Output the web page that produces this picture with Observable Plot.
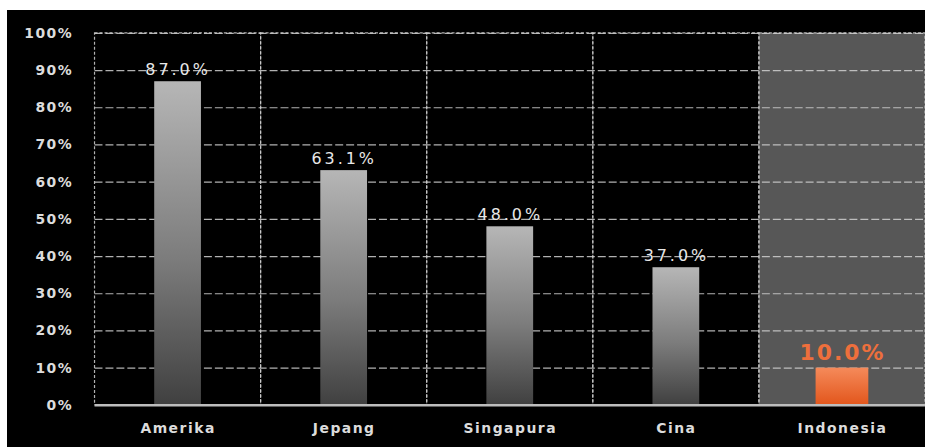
<!DOCTYPE html>
<html>
<head>
<meta charset="utf-8">
<script src="https://cdn.jsdelivr.net/npm/d3@7"></script>
<script src="https://cdn.jsdelivr.net/npm/@observablehq/plot@0.6"></script>
<style>
  html, body { margin: 0; padding: 0; background: #fff; }
  #wrap { position: absolute; left: 7px; top: 10px; width: 918px; height: 437px; background: #000; overflow: hidden; }
  #wrap svg text { letter-spacing: 1.5px; }
  #wrap svg .val text { letter-spacing: 3px; }
  #wrap svg .hval text { letter-spacing: 2px; }
</style>
</head>
<body>
<div id="wrap"></div>
<script>
const categories = ["Amerika", "Jepang", "Singapura", "Cina", "Indonesia"];
const values = [87.0, 63.1, 48.0, 37.0, 10.0];
const yTicks = [0, 10, 20, 30, 40, 50, 60, 70, 80, 90, 100];
const highlight = "Indonesia";

const data = categories.map((c, i) => ({country: c, value: values[i]}));
const normal = data.filter(d => d.country !== highlight);
const hi = data.filter(d => d.country === highlight);

const svg = Plot.plot({
  width: 923,
  height: 437,
  marginLeft: 88,
  marginRight: 0,
  marginTop: 23,
  marginBottom: 40,
  style: {background: "transparent", color: "#dcdcdc", fontFamily: "DejaVu Sans"},
  x: {domain: categories, padding: 0, label: null},
  y: {domain: [0, 100], label: null},
  marks: [
    Plot.barY([highlight], {x: d => d, y1: 0, y2: 100, fill: "#575757", inset: 0}),
    Plot.ruleY(yTicks.filter(t => t > 0), {stroke: "#d0d0d0", strokeDasharray: "8,3", strokeWidth: 1.2, strokeOpacity: 0.85}),
    Plot.barY(categories, {x: d => d, y1: 0, y2: 100, fill: "none", stroke: "#d0d0d0", strokeDasharray: "3,2", strokeWidth: 1.2, strokeOpacity: 0.85, inset: 0}),
    Plot.barY(normal, {x: "country", y: "value", fill: "url(#gradGray)", insetLeft: 60, insetRight: 60}),
    Plot.barY(hi, {x: "country", y: "value", fill: "url(#gradOrange)", insetLeft: 57, insetRight: 57}),
    Plot.ruleY([0], {stroke: "#bdbdbd", strokeWidth: 2.5}),
    Plot.text(normal, {x: "country", y: "value", text: d => d.value.toFixed(1) + "%", dy: -12, fill: "#e8e8e8", fontSize: 16, className: "val"}),
    Plot.text(hi, {x: "country", y: "value", text: d => d.value.toFixed(1) + "%", dy: -15, fill: "#ee6f3c", fontSize: 22, fontWeight: "bold", className: "hval"}),
    Plot.axisY({ticks: yTicks, tickFormat: d => d + "%", tickSize: 0, tickPadding: 22, fontSize: 14, fontWeight: "bold", label: null}),
    Plot.axisX({tickSize: 0, tickPadding: 18, fontSize: 14, fontWeight: "bold", label: null})
  ]
});

const defs = d3.select(svg).insert("defs", ":first-child");
const g1 = defs.append("linearGradient").attr("id", "gradGray").attr("x1", 0).attr("y1", 0).attr("x2", 0).attr("y2", 1);
g1.append("stop").attr("offset", "0%").attr("stop-color", "#b6b6b6");
g1.append("stop").attr("offset", "55%").attr("stop-color", "#7c7c7c");
g1.append("stop").attr("offset", "100%").attr("stop-color", "#404040");
const g2 = defs.append("linearGradient").attr("id", "gradOrange").attr("x1", 0).attr("y1", 0).attr("x2", 0).attr("y2", 1);
g2.append("stop").attr("offset", "0%").attr("stop-color", "#f58a5a");
g2.append("stop").attr("offset", "100%").attr("stop-color", "#e2561c");

document.getElementById("wrap").appendChild(svg);
</script>
</body>
</html>
